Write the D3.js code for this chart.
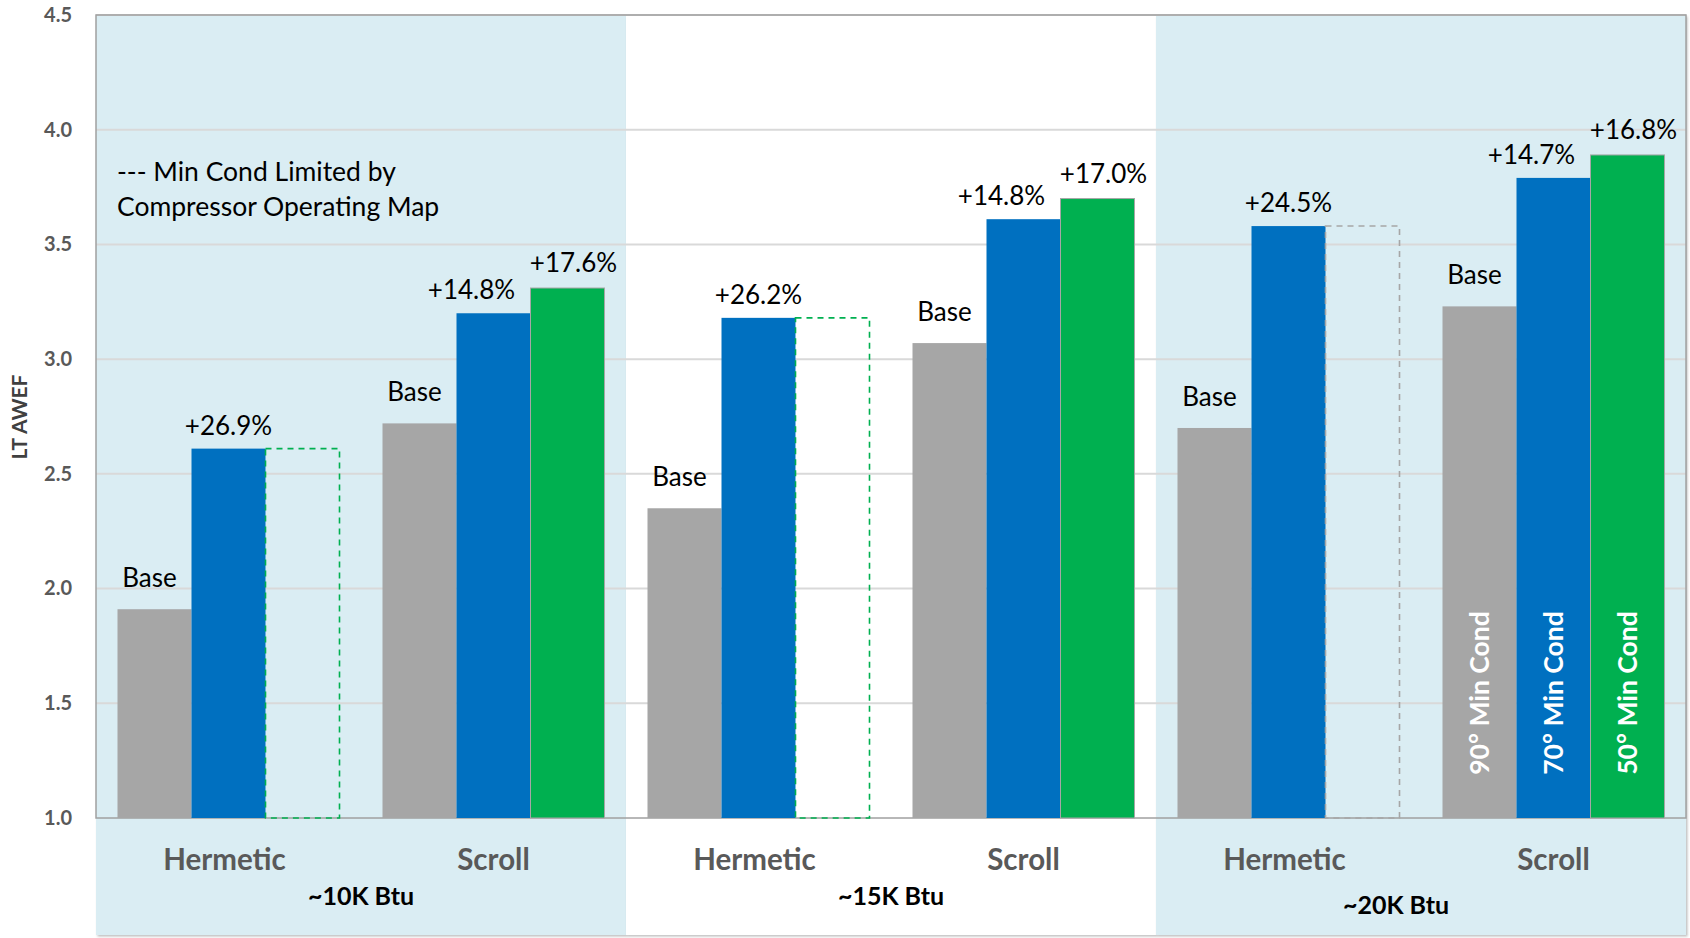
<!DOCTYPE html>
<html>
<head>
<meta charset="utf-8">
<script src="https://cdn.jsdelivr.net/npm/d3@7/dist/d3.min.js"></script>
<style>
  body { margin: 0; background: #fff; }
  svg { font-family: Lato, "Open Sans", sans-serif; }
</style>
</head>
<body>
<svg id="chart" width="1690" height="938"></svg>
<script>
'use strict';

// chart values
var groups = ["~10K Btu", "~15K Btu", "~20K Btu"];
var types = ["Hermetic", "Scroll"];
var seriesNames = ["90° Min Cond", "70° Min Cond", "50° Min Cond"];
var base90 = [1.91, 2.72, 2.35, 3.07, 2.70, 3.23];
var min70 = [2.61, 3.20, 3.18, 3.61, 3.58, 3.79];
var min50 = [null, 3.31, null, 3.70, null, 3.89];
var label70 = ["+26.9%", "+14.8%", "+26.2%", "+14.8%", "+24.5%", "+14.7%"];
var label50 = [null, "+17.6%", null, "+17.0%", null, "+16.8%"];
var yTicks = [1.0, 1.5, 2.0, 2.5, 3.0, 3.5, 4.0, 4.5];
var noteLines = ["--- Min Cond Limited by", "Compressor Operating Map"];

(function() {
  var colors = ["#A6A6A6", "#0070C0", "#00B050"];
  var limitColors = ["#00B050", "#00B050", "#A6A6A6"];
  var panelFill = "#DAEDF3";

  var svg = d3.select("#chart");
  var pLeft = 96, pRight = 1686, pTop = 15, pBottom = 818, panelBottom = 935;

  // one row per (group, type)
  var cats = [];
  groups.forEach(function(g, gi) {
    types.forEach(function(t, ti) {
      var i = gi * types.length + ti;
      cats.push({ id: g + "|" + t, group: g, gi: gi, type: t, ti: ti, i: i,
        vals: [base90[i], min70[i], min50[i]] });
    });
  });

  var x = d3.scaleBand().domain(cats.map(function(d) { return d.id; })).range([pLeft, pRight]);
  var pad = 21.5;
  var xs = d3.scaleBand().domain([0, 1, 2]).range([pad, x.bandwidth() - pad]);
  var y = d3.scaleLinear().domain([1, 4.5]).range([pBottom, pTop]);

  function groupSpan(g) {
    var x0 = x(g + "|" + types[0]);
    var x1 = x(g + "|" + types[types.length - 1]) + x.bandwidth();
    return [x0, x1];
  }

  // shaded group panels (1st and 3rd), with a faint shadow
  var defs = svg.append("defs");
  var f = defs.append("filter").attr("id", "shadow")
    .attr("x", "-2%").attr("y", "-2%").attr("width", "104%").attr("height", "104%");
  f.append("feDropShadow").attr("dx", 1.5).attr("dy", 1.5).attr("stdDeviation", 1.2)
    .attr("flood-color", "#000").attr("flood-opacity", 0.25);

  groups.forEach(function(g, gi) {
    var s = groupSpan(g);
    svg.append("rect")
      .attr("x", s[0]).attr("y", pTop)
      .attr("width", s[1] - s[0]).attr("height", panelBottom - pTop)
      .attr("fill", gi === 1 ? "#fff" : panelFill)
      .attr("filter", "url(#shadow)");
  });

  // gridlines
  svg.append("g").selectAll("line")
    .data(yTicks.slice(1))
    .enter().append("line")
    .attr("x1", pLeft).attr("x2", pRight)
    .attr("y1", function(d) { return y(d); })
    .attr("y2", function(d) { return y(d); })
    .attr("stroke", "#D9D9D9").attr("stroke-width", 2);

  // plot border
  svg.append("rect")
    .attr("x", pLeft).attr("y", pTop)
    .attr("width", pRight - pLeft).attr("height", pBottom - pTop)
    .attr("fill", "none").attr("stroke", "#A0A0A0").attr("stroke-width", 1.5);

  // bars
  var cell = svg.append("g").selectAll("g")
    .data(cats)
    .enter().append("g")
    .attr("transform", function(d) { return "translate(" + x(d.id) + ",0)"; });

  cell.selectAll("rect.bar")
    .data(function(d) {
      return d.vals.map(function(v, k) { return { v: v, k: k }; })
        .filter(function(e) { return e.v !== null; });
    })
    .enter().append("rect")
    .attr("class", "bar")
    .attr("x", function(e) { return xs(e.k); })
    .attr("width", xs.bandwidth())
    .attr("y", function(e) { return y(e.v); })
    .attr("height", function(e) { return pBottom - y(e.v); })
    .attr("fill", function(e) { return colors[e.k]; })
    .attr("stroke", function(e) { return e.k === 2 ? "#A6A6A6" : "none"; })
    .attr("stroke-width", 1);

  // dashed outline where min cond is limited by the compressor map
  cell.filter(function(d) { return d.vals[2] === null; })
    .append("rect")
    .attr("x", xs(2))
    .attr("width", xs.bandwidth())
    .attr("y", function(d) { return y(d.vals[1]); })
    .attr("height", function(d) { return pBottom - y(d.vals[1]); })
    .attr("fill", "none")
    .attr("stroke", function(d) { return limitColors[d.gi]; })
    .attr("stroke-width", 1.6)
    .attr("stroke-dasharray", "6,5");

  // bar top labels; when a green bar sits next door the two labels are pushed apart
  cell.append("text")
    .attr("x", xs(0) + xs.bandwidth() / 2 - 5)
    .attr("y", function(d) { return y(d.vals[0]) - 22; })
    .attr("text-anchor", "middle").attr("font-size", 26).attr("fill", "#000")
    .text("Base");

  cell.append("text")
    .attr("x", function(d) { return xs(1) + xs.bandwidth() / 2 - (label50[d.i] ? 22 : 0); })
    .attr("y", function(d) { return y(d.vals[1]) - 14; })
    .attr("text-anchor", "middle").attr("font-size", 26).attr("fill", "#000")
    .text(function(d) { return label70[d.i]; });

  cell.filter(function(d) { return label50[d.i] !== null; })
    .append("text")
    .attr("x", xs(2) + xs.bandwidth() / 2 + 6)
    .attr("y", function(d) { return y(d.vals[2]) - 16; })
    .attr("text-anchor", "middle").attr("font-size", 26).attr("fill", "#000")
    .text(function(d) { return label50[d.i]; });

  // series names written inside the last set of bars
  var lastCell = cell.filter(function(d, i) { return i === cats.length - 1; });
  lastCell.selectAll("text.series")
    .data(seriesNames)
    .enter().append("text")
    .attr("class", "series")
    .attr("transform", function(s, k) {
      return "translate(" + (xs(k) + xs.bandwidth() / 2 + 9) + ",693) rotate(-90)";
    })
    .attr("text-anchor", "middle")
    .attr("font-size", 26.5).attr("font-weight", "bold").attr("fill", "#fff")
    .text(function(s) { return s; });

  // y axis
  var yAxis = d3.axisLeft(y).tickValues(yTicks).tickSize(0).tickPadding(24)
    .tickFormat(d3.format(".1f"));
  var gy = svg.append("g").attr("transform", "translate(" + pLeft + ",0)").call(yAxis);
  gy.select(".domain").remove();
  gy.selectAll("text")
    .attr("font-family", "Lato, sans-serif")
    .attr("font-size", 20).attr("font-weight", "bold").attr("fill", "#595959");

  svg.append("text")
    .attr("transform", "translate(27,417) rotate(-90)")
    .attr("text-anchor", "middle")
    .attr("font-size", 21).attr("font-weight", "bold").attr("fill", "#404040")
    .text("LT AWEF");

  // x axis labels
  svg.append("g").selectAll("text")
    .data(cats)
    .enter().append("text")
    .attr("x", function(d) { return x(d.id) + x.bandwidth() / 2 - (d.ti === 0 ? 4 : 0); })
    .attr("y", 870)
    .attr("text-anchor", "middle")
    .attr("font-size", 29.5).attr("font-weight", "bold").attr("fill", "#595959")
    .text(function(d) { return d.type; });

  svg.append("g").selectAll("text")
    .data(groups)
    .enter().append("text")
    .attr("x", function(g, gi) {
      var s = groupSpan(g);
      return (s[0] + s[1]) / 2 - (gi === 2 ? 25 : 0);
    })
    .attr("y", function(g, gi) { return gi === 2 ? 914 : 905; })
    .attr("text-anchor", "middle")
    .attr("font-size", 25).attr("font-weight", "bold").attr("fill", "#000")
    .text(function(g) { return g; });

  // note
  svg.append("g").selectAll("text")
    .data(noteLines)
    .enter().append("text")
    .attr("x", 117)
    .attr("y", function(t, i) { return 181 + i * 35; })
    .attr("font-size", 26.5).attr("fill", "#000")
    .text(function(t) { return t; });
})();
</script>
</body>
</html>
